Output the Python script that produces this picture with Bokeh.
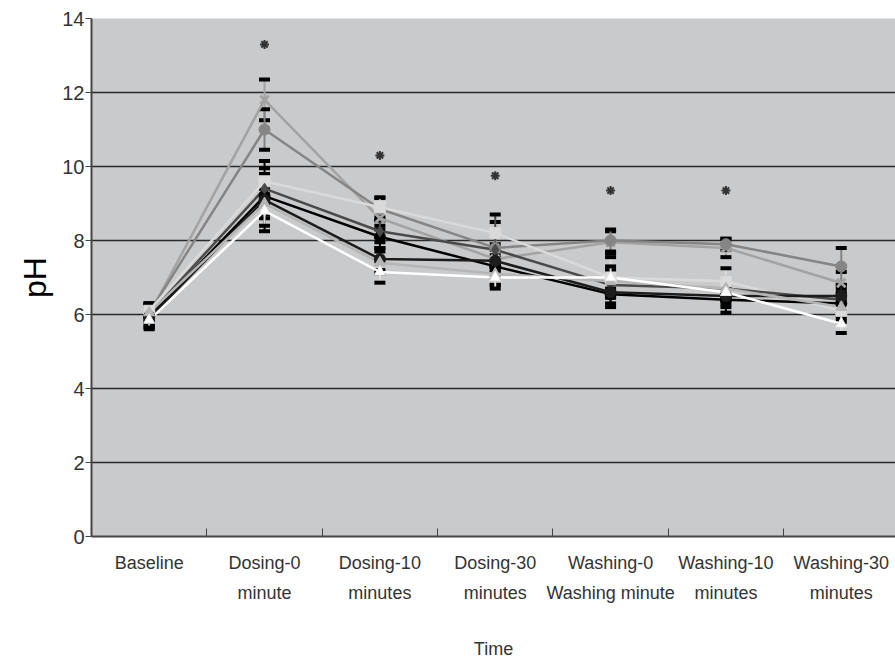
from bokeh.plotting import figure
from bokeh.models import Range1d, FixedTicker, ColumnDataSource, Whisker, TeeHead
from bokeh.embed import file_html
from bokeh.resources import INLINE

categories = ["Baseline", "Dosing-0\nminute", "Dosing-10\nminutes", "Dosing-30\nminutes",
              "Washing-0\nWashing minute", "Washing-10\nminutes", "Washing-30\nminutes"]

y_ticks = [0, 2, 4, 6, 8, 10, 12, 14]

# pH means per group
s1 = [6.00, 11.80, 8.60, 7.50, 7.95, 7.80, 6.85]
s2 = [6.05, 11.00, 8.85, 7.80, 8.00, 7.90, 7.30]
s3 = [6.10, 9.60, 8.90, 8.20, 7.00, 6.90, 6.10]
s4 = [5.95, 9.20, 8.10, 7.30, 6.55, 6.40, 6.30]
s5 = [6.00, 9.40, 8.25, 7.75, 6.80, 6.70, 6.40]
s6 = [5.90, 9.10, 7.50, 7.45, 6.60, 6.50, 6.50]
s7 = [6.05, 9.00, 7.40, 7.10, 6.90, 6.70, 6.20]
s8 = [5.85, 8.80, 7.15, 7.00, 7.00, 6.60, 5.75]

# standard deviations
e1 = [0.30, 0.55, 0.30, 0.30, 0.30, 0.25, 0.30]
e2 = [0.25, 0.55, 0.30, 0.30, 0.30, 0.15, 0.50]
e3 = [0.20, 0.35, 0.27, 0.30, 0.55, 0.35, 0.30]
e4 = [0.30, 0.95, 0.30, 0.30, 0.35, 0.35, 0.30]
e5 = [0.25, 0.40, 0.30, 0.95, 0.30, 0.25, 0.30]
e6 = [0.30, 0.40, 0.30, 0.30, 0.30, 0.30, 0.30]
e7 = [0.25, 0.40, 0.30, 0.30, 0.30, 0.30, 0.30]
e8 = [0.20, 0.40, 0.29, 0.30, 0.30, 0.30, 0.25]

series = [s1, s2, s3, s4, s5, s6, s7, s8]
errors = [e1, e2, e3, e4, e5, e6, e7, e8]
colors = ["#a3a3a3", "#858585", "#dadada", "#000000", "#4a4a4a", "#1c1c1c", "#b5b5b5", "#ffffff"]
markers = ["x", "circle", "square", "circle", "diamond", "circle", "triangle", "triangle"]

# significance marks
star_idx = [1, 2, 3, 4, 5]
star_y = [13.3, 10.3, 9.75, 9.35, 9.35]

xs = [i + 0.5 for i in range(len(categories))]

p = figure(width=895, height=662, output_backend="svg", toolbar_location=None,
           x_range=Range1d(0, 6.97), y_range=Range1d(0, 14),
           min_border_left=91, min_border_right=0, min_border_top=18, min_border_bottom=126)

p.background_fill_color = "#c9cacc"
p.border_fill_color = "white"
p.outline_line_color = None

p.xgrid.grid_line_color = None
p.ygrid.grid_line_color = "#2a2a2a"
p.ygrid.grid_line_width = 1.6
p.ygrid.ticker = FixedTicker(ticks=y_ticks)

narrow = "Liberation Sans Narrow, Liberation Sans, Arial, sans-serif"

p.yaxis.ticker = FixedTicker(ticks=y_ticks)
p.yaxis.axis_label = "pH"
p.yaxis.axis_label_text_font = "Liberation Sans"
p.yaxis.axis_label_text_font_style = "normal"
p.yaxis.axis_label_text_font_size = "32px"
p.yaxis.axis_label_text_color = "black"
p.yaxis.axis_label_standoff = 6
p.yaxis.major_label_text_font = narrow
p.yaxis.major_label_text_font_size = "20px"
p.yaxis.major_label_text_color = "#333333"
p.yaxis.major_tick_out = 6
p.yaxis.major_tick_in = 0
p.yaxis.minor_tick_line_color = None
p.yaxis.axis_line_width = 2
p.yaxis.axis_line_color = "#444444"
p.yaxis.major_tick_line_color = "#444444"
p.yaxis.major_label_standoff = 1

p.xaxis.ticker = FixedTicker(ticks=xs, minor_ticks=[1, 2, 3, 4, 5, 6])
p.xaxis.major_label_overrides = {x: c for x, c in zip(xs, categories)}
p.xaxis.major_tick_line_color = None
p.xaxis.minor_tick_in = 8
p.xaxis.minor_tick_out = 0
p.xaxis.minor_tick_line_color = "#444444"
p.xaxis.minor_tick_line_width = 1
p.xaxis.axis_line_width = 2
p.xaxis.axis_line_color = "#444444"
p.xaxis.major_label_text_font = narrow
p.xaxis.major_label_text_font_size = "18px"
p.xaxis.major_label_text_color = "#333333"
p.xaxis.major_label_text_line_height = 1.5
p.xaxis.major_label_standoff = 10
p.xaxis.axis_label = "Time"
p.xaxis.axis_label_text_font = narrow
p.xaxis.axis_label_text_font_style = "normal"
p.xaxis.axis_label_text_font_size = "18px"
p.xaxis.axis_label_text_color = "#333333"
p.xaxis.axis_label_standoff = 33

for vals, errs, col, mk in zip(series, errors, colors, markers):
    src = ColumnDataSource(dict(x=xs, y=vals,
                                upper=[v + e for v, e in zip(vals, errs)],
                                lower=[v - e for v, e in zip(vals, errs)]))
    p.line("x", "y", source=src, line_color=col, line_width=2.5)
    w = Whisker(base="x", upper="upper", lower="lower", source=src, dimension="height",
                line_color=col if col != "#ffffff" else "#dddddd", line_width=2,
                upper_head=TeeHead(size=11, line_color="black", line_width=4),
                lower_head=TeeHead(size=11, line_color="black", line_width=4))
    p.add_layout(w)

for vals, col, mk in zip(series, colors, markers):
    lc = "#e8e8e8" if col == "#ffffff" else col
    if mk == "x":
        p.scatter(xs, vals, marker=mk, size=12, line_color=col, line_width=3)
    else:
        p.scatter(xs, vals, marker=mk, size=11, fill_color=col, line_color=lc, line_width=1)

p.scatter([xs[i] for i in star_idx], star_y, marker="asterisk", size=9,
          line_color="#333333", line_width=2)

open("out.html", "w").write(file_html(p, INLINE))
